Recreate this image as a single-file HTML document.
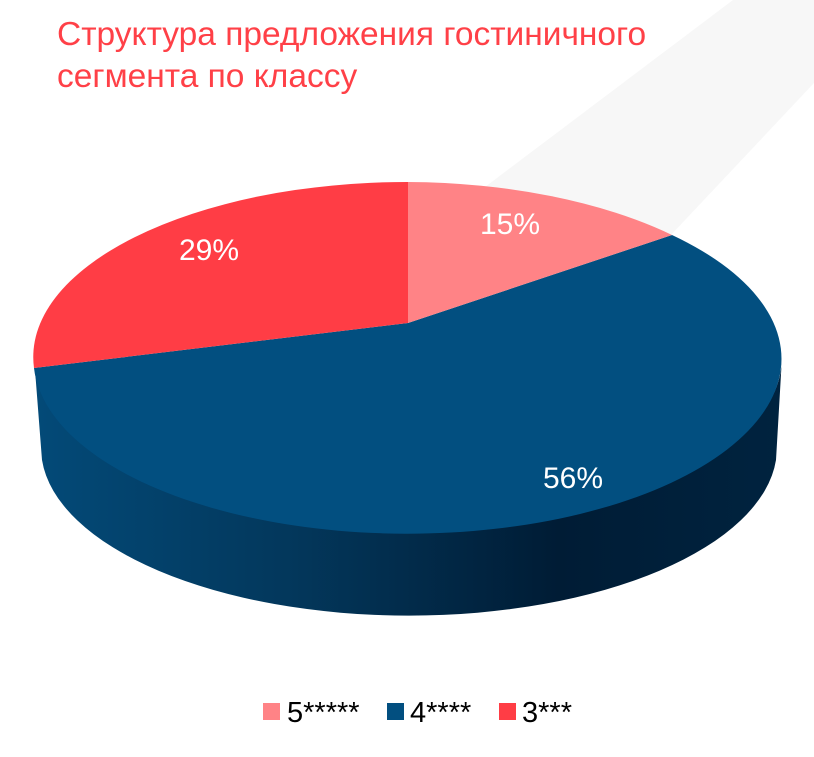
<!DOCTYPE html>
<html><head><meta charset="utf-8"><style>
html,body{margin:0;padding:0;background:#fff;}
body{width:814px;height:752px;overflow:hidden;font-family:"Liberation Sans",sans-serif;}
</style></head><body>
<svg width="814" height="752" viewBox="0 0 814 752" xmlns="http://www.w3.org/2000/svg" style="font-family:'Liberation Sans',sans-serif">
<defs>
<linearGradient id="side" x1="0" x2="1" y1="0" y2="0">
<stop offset="0" stop-color="#034a78"/>
<stop offset="0.35" stop-color="#03375b"/>
<stop offset="0.7" stop-color="#001c35"/>
<stop offset="1" stop-color="#00233f"/>
</linearGradient>
</defs>
<polygon points="733,0 814,0 814,83 670,236 420,236" fill="#f7f7f7"/>
<text x="57" y="45" font-size="33.5" fill="#ff4047">Структура предложения гостиничного</text>
<text x="57" y="87" font-size="33.5" fill="#ff4047">сегмента по классу</text>
<path d="M34,357 A374,175 0 0 0 782,357 L776,460 A368,168 0 0 1 42,460 Z" fill="url(#side)"/>
<path d="M408,323 L672,235 A374,175 0 1 1 34,368 Z" fill="#024f80"/>
<path d="M408,323 L408,182 A374,175 0 0 1 672,235 Z" fill="#ff8386"/>
<path d="M408,323 L34,368 A374,175 0 0 1 408,182 Z" fill="#ff3d45"/>
<text x="510" y="234" font-size="30" fill="#fff" text-anchor="middle">15%</text>
<text x="209" y="260" font-size="30" fill="#fff" text-anchor="middle">29%</text>
<text x="573" y="488" font-size="30" fill="#fff" text-anchor="middle">56%</text>
<rect x="263" y="703" width="17" height="17" fill="#ff8386"/>
<text x="287" y="722" font-size="29" fill="#000">5*****</text>
<rect x="387" y="703" width="17" height="17" fill="#024f80"/>
<text x="410" y="722" font-size="29" fill="#000">4****</text>
<rect x="499" y="703" width="17" height="17" fill="#ff3d45"/>
<text x="522" y="722" font-size="29" fill="#000">3***</text>
</svg>
</body></html>
